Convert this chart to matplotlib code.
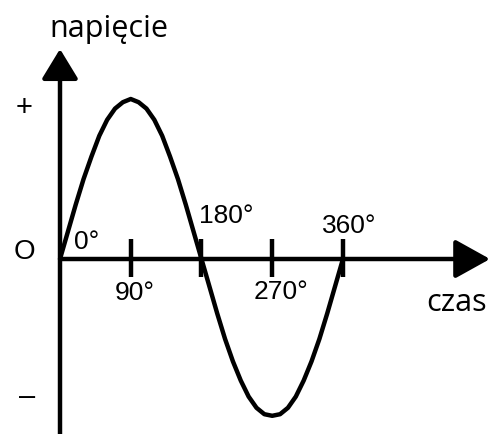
import numpy as np
import matplotlib
matplotlib.use("Agg")
import matplotlib.pyplot as plt

# Phase angle (degrees) and relative voltage along one full period
angles = [0, 10, 20, 30, 40, 50, 60, 70, 80, 90, 100, 110, 120, 130, 140, 150, 160, 170,
          180, 190, 200, 210, 220, 230, 240, 250, 260, 270, 280, 290, 300, 310, 320, 330,
          340, 350, 360]
voltage = [0.00, 0.17, 0.34, 0.50, 0.64, 0.77, 0.87, 0.94, 0.98, 1.00, 0.98, 0.94, 0.87,
           0.77, 0.64, 0.50, 0.34, 0.17, 0.00, -0.17, -0.34, -0.50, -0.64, -0.76, -0.86,
           -0.93, -0.97, -0.98, -0.97, -0.93, -0.86, -0.76, -0.64, -0.50, -0.34, -0.17, 0.00]

tick_angles = [90, 180, 270, 360]
tick_labels = ["90°", "180°", "270°", "360°"]

W, H, DPI = 491, 435, 100
fig = plt.figure(figsize=(W / DPI, H / DPI), dpi=DPI)
ax = fig.add_axes([0, 0, 1, 1])
ax.set_axis_off()

# pixel layout of the diagram
x0_px, deg_px = 60, 0.786      # origin column, pixels per degree
y0_px, amp_px = 260, 160       # axis row, pixels per unit voltage


def dx(px):
    return (px - x0_px) / deg_px


def dy(py):
    return (y0_px - py) / amp_px


ax.set_xlim(dx(0), dx(W))
ax.set_ylim(dy(H), dy(0))

lw = 3.2
# vertical axis with arrow
ax.annotate("", xy=(0, dy(50)), xytext=(0, dy(H + 5)),
            arrowprops=dict(arrowstyle="-|>,head_length=0.92,head_width=0.56",
                            mutation_scale=20, lw=lw, color="black",
                            shrinkA=0, shrinkB=0))
# horizontal axis with arrow
ax.annotate("", xy=(dx(490), 0), xytext=(0, 0),
            arrowprops=dict(arrowstyle="-|>,head_length=1.08,head_width=0.6",
                            mutation_scale=20, lw=lw, color="black",
                            shrinkA=0, shrinkB=0))

# tick marks
ax.vlines(tick_angles, dy(278), dy(240), colors="black", lw=lw)

# waveform
ax.plot(angles, voltage, color="black", lw=lw, solid_joinstyle="round",
        solid_capstyle="butt")

label_font = ["Liberation Sans", "DejaVu Sans"]
word_font = ["Open Sans", "DejaVu Sans"]

ax.text(dx(109), dy(37), "napięcie", family=word_font, fontsize=22,
        ha="center", va="baseline")
ax.text(dx(457), dy(311), "czas", family=word_font, fontsize=22,
        ha="center", va="baseline")

ax.text(dx(24), dy(108), "+", family=label_font, fontsize=21, ha="center", va="center")
ax.text(dx(24), dy(252), "O", family=label_font, fontsize=20, ha="center", va="center")
ax.text(dx(27), dy(397), "–", family=label_font, fontsize=21, ha="center", va="center")
ax.text(dx(87), dy(242), "0°", family=label_font, fontsize=19, ha="center", va="center")

label_pos = {"90°": (135, 293), "180°": (226, 216), "270°": (281, 292), "360°": (349, 226)}
for lab in tick_labels:
    px, py = label_pos[lab]
    ax.text(dx(px), dy(py), lab, family=label_font, fontsize=19,
            ha="center", va="center")

fig.savefig("out.png", dpi=DPI)
